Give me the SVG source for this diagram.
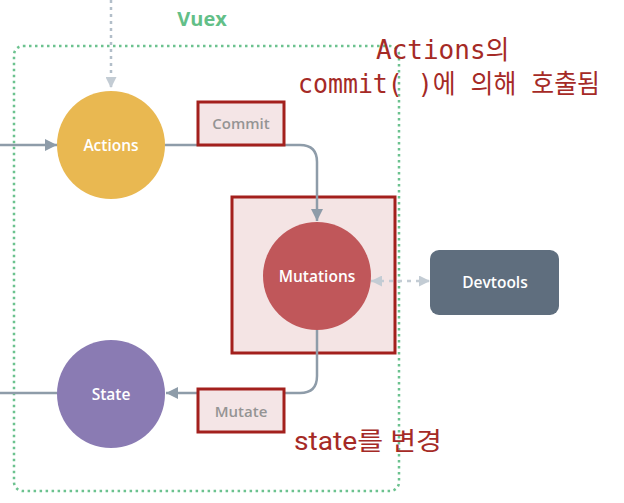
<svg xmlns="http://www.w3.org/2000/svg" width="624" height="503" viewBox="0 0 624 503">
<style>
.lbl{font-family:"Open Sans","Lato",sans-serif;font-weight:600;fill:#ffffff;text-anchor:middle;font-size:15.5px}
.tag{font-family:"Open Sans","Lato",sans-serif;font-weight:600;fill:#949494;text-anchor:middle;font-size:15px}
.tagbox{fill:#f4e5e6;stroke:#a3201d;stroke-width:3}
.conn{fill:none;stroke:#8e9ca9;stroke-width:2.5}
.note{fill:#a52a26}
</style>
<defs>
<marker id="ah" viewBox="0 0 12 12" refX="12" refY="6" markerWidth="12" markerHeight="12" markerUnits="userSpaceOnUse" orient="auto">
<path d="M0 0 L12 6 L0 12 Z" fill="#8e9ca9"/>
</marker>
<marker id="ahl" viewBox="0 0 12 12" refX="12" refY="6" markerWidth="11" markerHeight="11" markerUnits="userSpaceOnUse" orient="auto-start-reverse">
<path d="M0 0 L12 6 L0 12 Z" fill="#c3ccd4"/>
</marker>
</defs>
<rect width="624" height="503" fill="#ffffff"/>

<g id="vuex">
<rect x="14" y="46" width="385" height="445" rx="9" fill="none" stroke="#6cc28f" stroke-width="2.5" stroke-dasharray="2.5 3.5"/>
<text x="202" y="26" font-family="'Open Sans','Lato',sans-serif" font-weight="700" font-size="20" fill="#63bf88" text-anchor="middle">Vuex</text>
</g>

<g id="mutations-highlight">
<rect x="232" y="197" width="163" height="156" fill="#f4e4e4" stroke="#a3201d" stroke-width="3"/>
</g>

<g id="connectors">
<path d="M111 0 V88" fill="none" stroke="#b2bec9" stroke-width="2.5" stroke-dasharray="3 4" marker-end="url(#ahl)"/>
<path class="conn" d="M0 145 H57" marker-end="url(#ah)"/>
<path class="conn" d="M165 145 H300 Q317 145 317 162 V221" marker-end="url(#ah)"/>
<path class="conn" d="M317 330 V376 Q317 393 300 393 H166" marker-end="url(#ah)"/>
<path class="conn" d="M57 393 H0"/>
<path d="M371 281 H430" fill="none" stroke="#c3ccd4" stroke-width="2.5" stroke-dasharray="4 5" marker-start="url(#ahl)" marker-end="url(#ahl)"/>
</g>

<g id="actions">
<circle cx="111" cy="145" r="54" fill="#e9b851"/>
<text class="lbl" x="111" y="150.5">Actions</text>
</g>

<g id="commit">
<rect class="tagbox" x="198" y="102" width="86" height="43"/>
<text class="tag" x="241" y="129">Commit</text>
</g>

<g id="mutations">
<circle cx="317" cy="276" r="54" fill="#c0575a"/>
<text class="lbl" x="317" y="282">Mutations</text>
</g>

<g id="devtools">
<rect x="430" y="250" width="129" height="65" rx="9" fill="#5f6e7e"/>
<text class="lbl" x="495" y="288">Devtools</text>
</g>

<g id="state">
<circle cx="111" cy="394" r="54" fill="#8a7bb3"/>
<text class="lbl" x="111" y="400">State</text>
</g>

<g id="mutate">
<rect class="tagbox" x="198" y="389" width="86" height="43"/>
<text class="tag" x="241" y="417">Mutate</text>
</g>

<g id="notes">
<text class="note" x="376" y="59" font-family="'DejaVu Sans Mono','Noto Sans CJK KR',monospace" font-size="26">Actions의</text>
<text class="note" x="298" y="93" font-family="'DejaVu Sans Mono','Noto Sans CJK KR',monospace" font-size="26" textLength="302" lengthAdjust="spacingAndGlyphs">commit( )에 의해 호출됨</text>
<text class="note" x="294" y="450" font-family="Roboto,'Noto Sans CJK KR',sans-serif" font-size="25" textLength="148" lengthAdjust="spacingAndGlyphs">state를 변경</text>
</g>
</svg>
